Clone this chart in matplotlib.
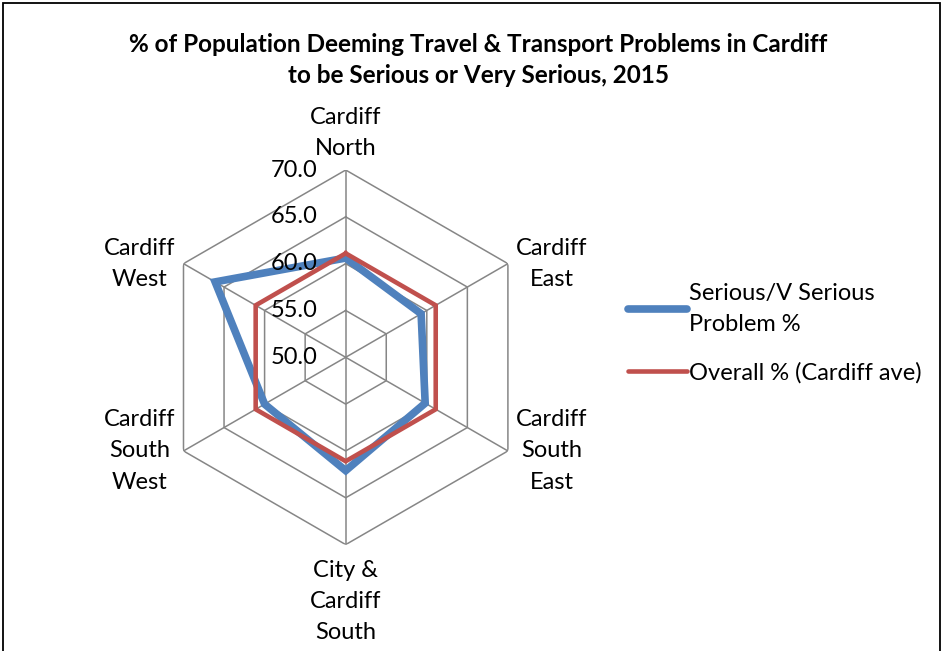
import numpy as np
import matplotlib.pyplot as plt
from matplotlib.patches import Rectangle

plt.rcParams['font.family'] = ['Lato', 'DejaVu Sans']

categories = ['Cardiff\nNorth', 'Cardiff\nEast', 'Cardiff\nSouth\nEast',
              'City &\nCardiff\nSouth', 'Cardiff\nSouth\nWest', 'Cardiff\nWest']
serious = [60.6, 59.3, 59.8, 62.1, 60.0, 66.1]
overall = [61.1, 61.1, 61.1, 61.1, 61.1, 61.1]
rings = [55.0, 60.0, 65.0, 70.0]
tick_labels = ['50.0', '55.0', '60.0', '65.0', '70.0']

W, H = 943, 651
fig = plt.figure(figsize=(W / 100, H / 100), dpi=100)

cx, cy, R = 345.7, 357.3, 187.3
ax = fig.add_axes([(cx - R) / W, (H - cy - R) / H, 2 * R / W, 2 * R / H],
                  projection='polar')
ax.set_theta_zero_location('N')
ax.set_theta_direction(-1)
ax.set_ylim(50, 70)
ax.grid(False)
ax.set_xticks([])
ax.set_yticks([])
ax.spines['polar'].set_visible(False)
ax.patch.set_alpha(0)

n = len(categories)
theta = np.arange(n) * 2 * np.pi / n
theta_c = np.append(theta, theta[0])

grid_col = '#868686'
for r in rings:
    ax.plot(theta_c, [r] * (n + 1), color=grid_col, lw=1.1, zorder=1)
for t in theta:
    ax.plot([t, t], [50, 70], color=grid_col, lw=1.1, zorder=1)

ax.plot(theta_c, serious + serious[:1], color='#4F81BD', lw=5.5,
        solid_joinstyle='miter', zorder=3, label='Serious/V Serious\nProblem %')
ax.plot(theta_c, overall + overall[:1], color='#C0504D', lw=3.3,
        solid_joinstyle='miter', zorder=4, label='Overall % (Cardiff ave)')

# radial tick labels
for i, lab in enumerate(tick_labels):
    ax.annotate(lab, xy=(0, 50 + 5 * i), xytext=(-20, 0), textcoords='offset points',
                ha='right', va='center', fontsize=17, zorder=5)

# category labels
offsets = [((0, 8), 'center', 'bottom'), ((6, 0), 'left', 'center'),
           ((6, 0), 'left', 'center'), ((0, -11), 'center', 'top'),
           ((-6, 0), 'right', 'center'), ((-6, 0), 'right', 'center')]
for t, lab, (off, ha, va) in zip(theta, categories, offsets):
    ax.annotate(lab, xy=(t, 70), xytext=off, textcoords='offset points',
                ha=ha, va=va, fontsize=17, linespacing=1.6,
                multialignment='center')

fig.text(478 / W, 1 - 60 / H,
         '% of Population Deeming Travel & Transport Problems in Cardiff\n'
         'to be Serious or Very Serious, 2015',
         ha='center', va='center', fontsize=17.5, fontweight='bold', linespacing=1.45)

leg = fig.legend(loc='center left', bbox_to_anchor=(628 / W, 1 - 333 / H), frameon=False,
                 fontsize=17, handlelength=2.5, handletextpad=0.1, borderpad=0,
                 borderaxespad=0, labelspacing=1.15)
leg.get_texts()[0].set_linespacing(1.6)
for h in leg.legend_handles:
    h.set_solid_capstyle('round')

fig.add_artist(Rectangle((3 / W, -0.05), (W - 6) / W, 1.05 - 3 / H,
                         transform=fig.transFigure, fill=False,
                         edgecolor='black', lw=1.3))

fig.savefig('out.png', dpi=100)
